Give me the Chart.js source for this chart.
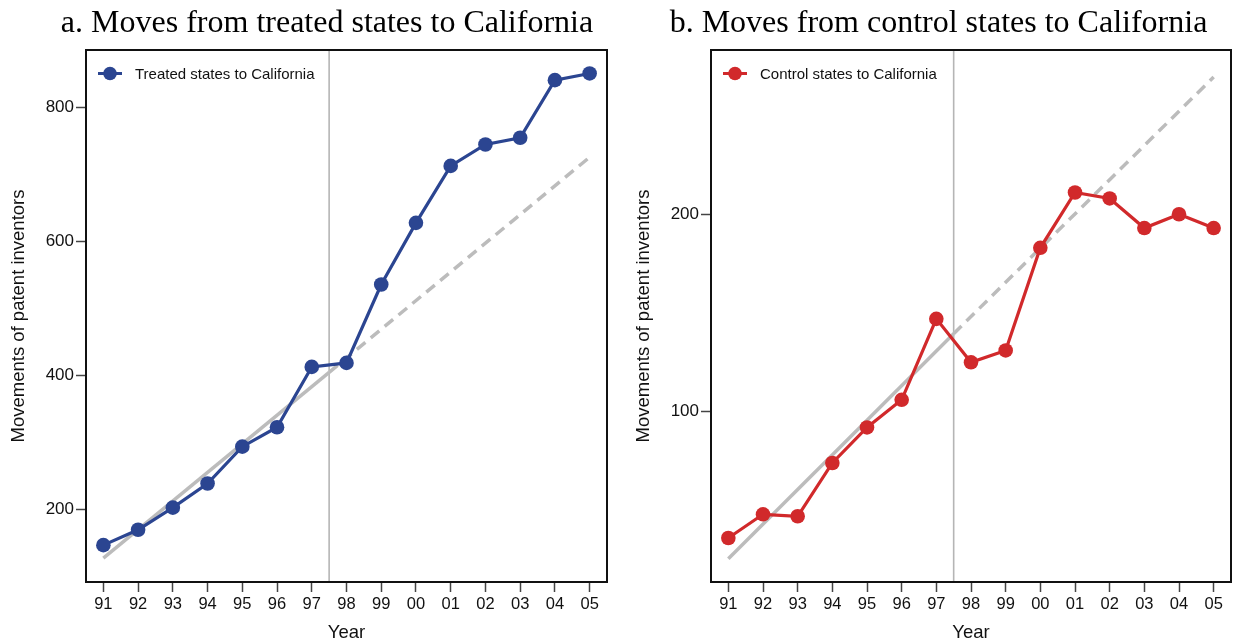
<!DOCTYPE html>
<html>
<head>
<meta charset="utf-8">
<script src="https://cdn.jsdelivr.net/npm/chart.js@4/dist/chart.umd.min.js"></script>
<style>
  html, body { margin: 0; padding: 0; background: #ffffff; }
  #wrap { position: relative; width: 1239px; height: 643px; overflow: hidden; background: #ffffff; }
  canvas { position: absolute; top: 0; }
  #cA { left: 0px; }
  #cB { left: 625px; }
</style>
</head>
<body>
<div id="wrap">
  <canvas id="cA" width="620" height="643"></canvas>
  <canvas id="cB" width="614" height="643"></canvas>
</div>
<script>
// Year labels (1991-2005)
const yearLabels = ['91', '92', '93', '94', '95', '96', '97', '98', '99', '00', '01', '02', '03', '04', '05'];

// Inventor moves into California, by origin group
const treatedMoves = [147, 170, 203, 239, 294, 323, 413, 419, 536, 628, 713, 745, 755, 841, 851];
const controlMoves = [36, 48, 47, 74, 92, 106, 147, 125, 131, 183, 211, 208, 193, 200, 193];

// Pre-1998 linear trend: start, at the 1997/98 break, end (index positions below)
const trendIdx = [0, 6.5, 14];
const treatedTrend = [127.5, 405, 726];
const controlTrend = [25.5, 139.5, 269.5];

// Policy break between 1997 and 1998
const breakIdx = 6.5;

// Y-axis ticks and ranges
const treatedTicks = [200, 400, 600, 800];
const controlTicks = [100, 200];
const treatedRange = [92, 886];
const controlRange = [13.7, 283.2];

const SANS = "'Liberation Sans', Arial, Helvetica, sans-serif";
const SERIF = "'Liberation Serif', 'Times New Roman', Times, serif";

const panelPlugin = {
  id: 'panelDecor',
  beforeDatasetsDraw(chart) {
    const o = chart.options.plugins.panelDecor;
    const { ctx, chartArea: a, scales } = chart;
    const x = scales.x.getPixelForValue(o.breakAt);
    ctx.save();
    ctx.strokeStyle = '#b5b5b5';
    ctx.lineWidth = 1.6;
    ctx.beginPath();
    ctx.moveTo(x, a.top);
    ctx.lineTo(x, a.bottom);
    ctx.stroke();
    ctx.restore();
  },
  afterDraw(chart) {
    const o = chart.options.plugins.panelDecor;
    const { ctx, chartArea: a } = chart;
    ctx.save();
    // frame
    ctx.strokeStyle = '#111111';
    ctx.lineWidth = 2;
    ctx.strokeRect(a.left, a.top, a.right - a.left, a.bottom - a.top);
    // legend inside the plot
    const ds = chart.data.datasets[0];
    const ly = a.top + 23.5;
    ctx.strokeStyle = ds.borderColor;
    ctx.lineWidth = 3;
    ctx.beginPath();
    ctx.moveTo(a.left + 12, ly);
    ctx.lineTo(a.left + 36, ly);
    ctx.stroke();
    ctx.fillStyle = ds.borderColor;
    ctx.beginPath();
    ctx.arc(a.left + 24, ly, 6.8, 0, Math.PI * 2);
    ctx.fill();
    ctx.fillStyle = '#111111';
    ctx.font = '15px ' + SANS;
    ctx.textAlign = 'left';
    ctx.textBaseline = 'alphabetic';
    ctx.fillText(ds.label, a.left + 49, ly + 5.5);
    // panel title
    ctx.font = '32px ' + SERIF;
    ctx.textAlign = 'center';
    ctx.fillStyle = '#000000';
    ctx.fillText(o.title, o.titleX, 31.5);
    ctx.restore();
  }
};

function makePanel(canvasId, cfg) {
  const pts = cfg.values.map((v, i) => ({ x: i, y: v }));
  const trendPts = cfg.trend.map((v, i) => ({ x: trendIdx[i], y: v }));
  return new Chart(document.getElementById(canvasId), {
    type: 'line',
    data: {
      datasets: [
        {
          label: cfg.label,
          data: pts,
          borderColor: cfg.color,
          backgroundColor: cfg.color,
          borderWidth: 3.2,
          pointRadius: 7.3,
          pointBorderWidth: 0,
          pointBackgroundColor: cfg.color,
          tension: 0
        },
        {
          label: 'trend',
          data: trendPts,
          borderColor: '#bcbcbc',
          borderWidth: 3.5,
          pointRadius: 0,
          tension: 0,
          segment: {
            borderDash: ctx => (ctx.p0DataIndex >= 1 ? [11, 7] : [])
          }
        }
      ]
    },
    options: {
      responsive: false,
      animation: false,
      devicePixelRatio: 1,
      layout: { padding: { top: 50, right: cfg.padRight, bottom: 0, left: 0 } },
      plugins: {
        legend: { display: false },
        tooltip: { enabled: false },
        panelDecor: { breakAt: breakIdx, title: cfg.title, titleX: cfg.titleX }
      },
      scales: {
        x: {
          type: 'linear',
          min: -0.5,
          max: 14.5,
          afterBuildTicks: s => { s.ticks = yearLabels.map((_, i) => ({ value: i })); },
          afterFit: s => { s.height = 61; },
          ticks: {
            callback: v => yearLabels[v],
            font: { family: SANS, size: 16.5 },
            color: '#111111',
            padding: 3,
            maxRotation: 0,
            autoSkip: false
          },
          grid: { drawOnChartArea: false, drawTicks: true, tickLength: 10, tickColor: '#444444', tickWidth: 1.5 },
          border: { display: true, color: '#111111', width: 2 },
          title: { display: true, text: 'Year', font: { family: SANS, size: 18.5 }, color: '#111111', padding: { top: 0, bottom: -1 } }
        },
        y: {
          type: 'linear',
          min: cfg.range[0],
          max: cfg.range[1],
          afterBuildTicks: s => { s.ticks = cfg.ticks.map(v => ({ value: v })); },
          afterFit: s => { s.width = 86; },
          ticks: {
            font: { family: SANS, size: 17 },
            color: '#111111',
            padding: 2
          },
          grid: { drawOnChartArea: false, drawTicks: true, tickLength: 10, tickColor: '#444444', tickWidth: 1.5 },
          border: { display: true, color: '#111111', width: 2 },
          title: { display: true, text: 'Movements of patent inventors', font: { family: SANS, size: 18.5 }, color: '#111111', padding: { top: 8, bottom: 0 } }
        }
      }
    },
    plugins: [panelPlugin]
  });
}

makePanel('cA', {
  label: 'Treated states to California',
  title: 'a. Moves from treated states to California',
  titleX: 327,
  values: treatedMoves,
  trend: treatedTrend,
  ticks: treatedTicks,
  range: treatedRange,
  color: '#2b4591',
  padRight: 13
});

makePanel('cB', {
  label: 'Control states to California',
  title: 'b. Moves from control states to California',
  titleX: 313.5,
  values: controlMoves,
  trend: controlTrend,
  ticks: controlTicks,
  range: controlRange,
  color: '#d1292b',
  padRight: 8
});
</script>
</body>
</html>
